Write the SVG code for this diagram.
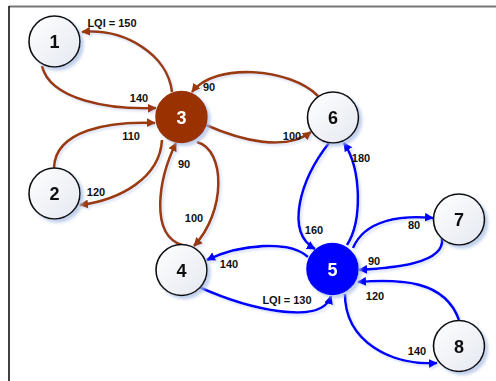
<svg xmlns="http://www.w3.org/2000/svg" width="496" height="381" viewBox="0 0 496 381">
<defs>
<linearGradient id="nodeFill" x1="0" y1="0" x2="1" y2="1">
<stop offset="0" stop-color="#ffffff"/>
<stop offset="1" stop-color="#e4e8f0"/>
</linearGradient>
<filter id="shadow" x="-30%" y="-30%" width="160%" height="160%">
<feGaussianBlur in="SourceAlpha" stdDeviation="1.5" result="b"/>
<feOffset in="b" dx="2.5" dy="3" result="o"/>
<feFlood flood-color="#a9bde3" flood-opacity="0.7"/>
<feComposite in2="o" operator="in" result="s"/>
<feMerge><feMergeNode in="s"/><feMergeNode in="SourceGraphic"/></feMerge>
</filter>
<filter id="eshadow" x="-10%" y="-10%" width="120%" height="120%">
<feGaussianBlur in="SourceAlpha" stdDeviation="1.2" result="b"/>
<feOffset in="b" dx="2" dy="2" result="o"/>
<feFlood flood-color="#b7c6e6" flood-opacity="0.5"/>
<feComposite in2="o" operator="in" result="s"/>
<feMerge><feMergeNode in="s"/><feMergeNode in="SourceGraphic"/></feMerge>
</filter>
<marker id="arrB" viewBox="0 0 10 10" refX="9" refY="5" markerWidth="9" markerHeight="9" markerUnits="userSpaceOnUse" orient="auto">
<path d="M0,0 L10,5 L0,10 Z" fill="#9b3a0c"/>
</marker>
<marker id="arrU" viewBox="0 0 10 10" refX="9" refY="5" markerWidth="9" markerHeight="9" markerUnits="userSpaceOnUse" orient="auto">
<path d="M0,0 L10,5 L0,10 Z" fill="#0000ff"/>
</marker>
<style>
.node circle { stroke: #111; stroke-width: 1.6; fill: url(#nodeFill); }
.node text { font-family: "Liberation Sans", Arial, sans-serif; font-weight: bold; font-size: 18px; text-anchor: middle; fill: #111; }
.node.brown circle { fill: #993300; stroke: #993300; }
.node.blue circle { fill: #0000ff; stroke: #0000ff; }
.node.brown text, .node.blue text { fill: #ffffff; }
.edge { fill: none; stroke-width: 2.6; }
.br { stroke: #9b3a0c; marker-end: url(#arrB); }
.bl { stroke: #0000ff; marker-end: url(#arrU); }
.lbl { font-family: "Liberation Sans", Arial, sans-serif; font-weight: bold; font-size: 11px; fill: #111; text-anchor: middle; }
</style>
</defs>
<rect x="0" y="0" width="496" height="381" fill="#ffffff"/>
<line x1="9" y1="6.5" x2="496" y2="6.5" stroke="#777" stroke-width="2"/>
<line x1="9" y1="6" x2="9" y2="381" stroke="#111" stroke-width="1.6"/>

<g id="connectors" filter="url(#eshadow)">
<path class="edge br" d="M172,92 C168,55 125,28 82,32"/>
<path class="edge br" d="M42,66 C50,100 110,110 156,108"/>
<path class="edge br" d="M54,168 C55,130 110,121 155,123"/>
<path class="edge br" d="M162,140 C160,178 120,200 80,205"/>
<path class="edge br" d="M182,245 C150,235 158,180 176,143"/>
<path class="edge br" d="M197,142 C226,150 226,212 194,246"/>
<path class="edge br" d="M318,96 C290,68 215,62 192,92"/>
<path class="edge br" d="M206,125 C240,140 285,152 311,132"/>
<path class="edge bl" d="M329,143 C300,180 285,232 315,249"/>
<path class="edge bl" d="M347,245 C362,222 362,170 344,143"/>
<path class="edge bl" d="M353,248 C365,220 400,215 433,218"/>
<path class="edge bl" d="M442,238 C446,264 392,268 359,270"/>
<path class="edge bl" d="M459,320 C445,280 400,279 358,282"/>
<path class="edge bl" d="M345,294 C345,342 392,366 437,363"/>
<path class="edge bl" d="M308,257 C290,240 240,244 207,260"/>
<path class="edge bl" d="M199,287 C250,310 322,326 331,296"/>
</g>

<g id="labels">
<text class="lbl" x="112" y="27">LQI = 150</text>
<text class="lbl" x="139" y="102">140</text>
<text class="lbl" x="131" y="140">110</text>
<text class="lbl" x="96" y="196">120</text>
<text class="lbl" x="184" y="168">90</text>
<text class="lbl" x="194" y="222">100</text>
<text class="lbl" x="209" y="91">90</text>
<text class="lbl" x="292" y="140">100</text>
<text class="lbl" x="361" y="162">180</text>
<text class="lbl" x="314" y="234">160</text>
<text class="lbl" x="414" y="229">80</text>
<text class="lbl" x="374" y="265">90</text>
<text class="lbl" x="375" y="300">120</text>
<text class="lbl" x="417" y="355">140</text>
<text class="lbl" x="287" y="304">LQI = 130</text>
<text class="lbl" x="229" y="268">140</text>
</g>

<g id="node1" class="node" filter="url(#shadow)"><circle cx="54.5" cy="41.5" r="25.5"/><text x="54.5" y="48">1</text></g>
<g id="node2" class="node" filter="url(#shadow)"><circle cx="54.5" cy="193.5" r="25.5"/><text x="54.5" y="200">2</text></g>
<g id="node3" class="node brown" filter="url(#shadow)"><circle cx="181.5" cy="117" r="25.5"/><text x="181.5" y="123.5">3</text></g>
<g id="node4" class="node" filter="url(#shadow)"><circle cx="181.5" cy="270" r="25.5"/><text x="181.5" y="276.5">4</text></g>
<g id="node5" class="node blue" filter="url(#shadow)"><circle cx="332.5" cy="269" r="25.5"/><text x="332.5" y="275.5">5</text></g>
<g id="node6" class="node" filter="url(#shadow)"><circle cx="333" cy="117.5" r="25.5"/><text x="333" y="124">6</text></g>
<g id="node7" class="node" filter="url(#shadow)"><circle cx="459" cy="219.5" r="25.5"/><text x="459" y="226">7</text></g>
<g id="node8" class="node" filter="url(#shadow)"><circle cx="459" cy="346" r="25.5"/><text x="459" y="352.5">8</text></g>
</svg>
